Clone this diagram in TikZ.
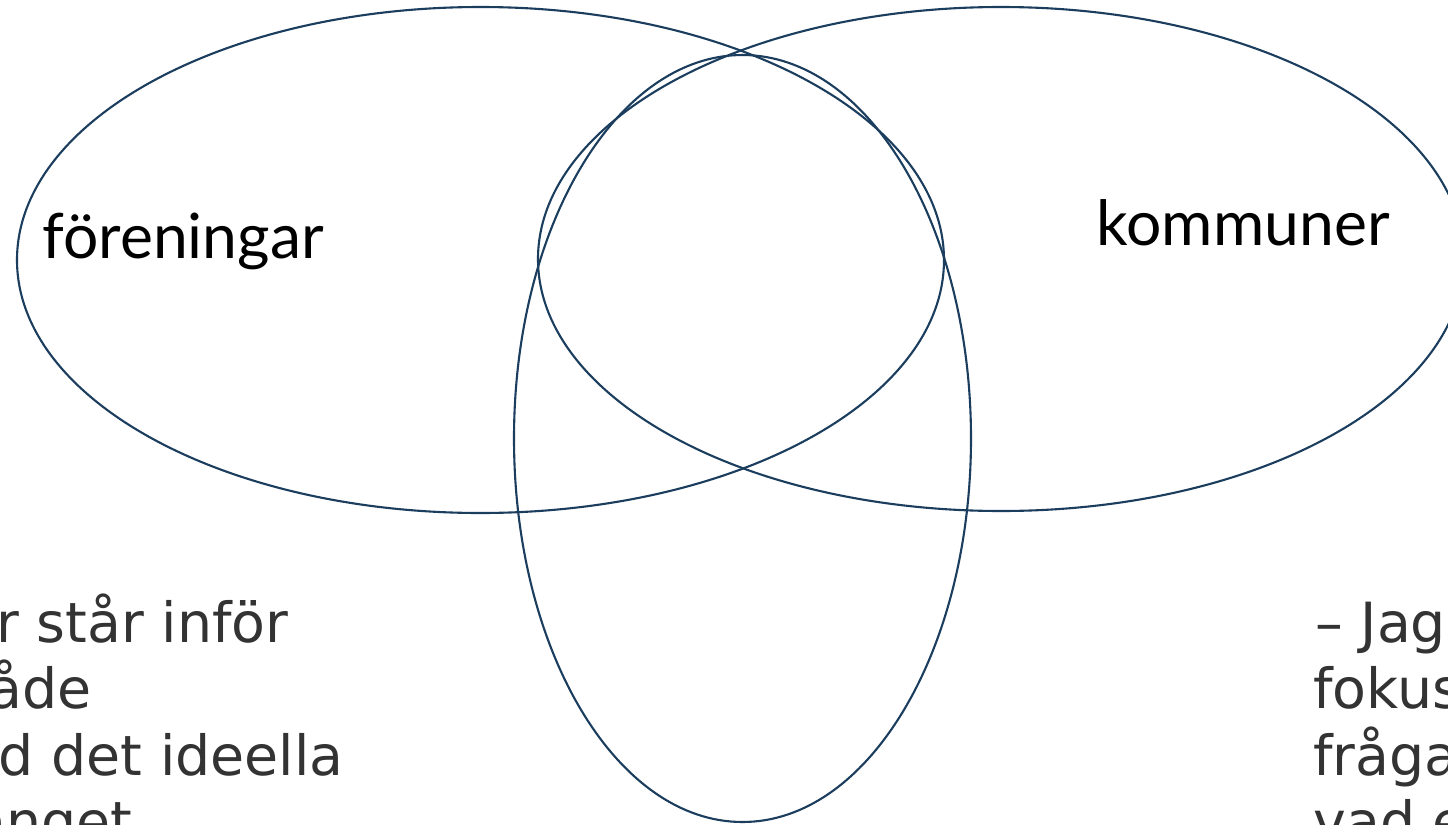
\documentclass[tikz,border=0pt]{standalone}
\usepackage{fontspec}
\setmainfont{DejaVu Sans}
\newfontfamily\labelfont{Lato}
\definecolor{ring}{HTML}{1B3D5E}
\definecolor{bodygray}{HTML}{333333}
\begin{document}
\begin{tikzpicture}[x=0.5pt,y=-0.5pt,
  ringstyle/.style={draw=ring,line width=1.05pt},
  setlabel/.style={inner sep=0pt,font=\labelfont\fontsize{31.2}{36}\selectfont,text=black},
  bodyline/.style={inner sep=0pt,font=\fontsize{27.7}{33}\selectfont,text=bodygray}]
\useasboundingbox (0,0) rectangle (1448,825);
\clip (0,0) rectangle (1448,825);
\fill[white] (0,0) rectangle (1448,825);
\draw[ringstyle] (480.5,260) ellipse [x radius=463.5, y radius=253];
\draw[ringstyle] (1001,259) ellipse [x radius=463, y radius=252];
\draw[ringstyle] (742.5,438.5) ellipse [x radius=228.5, y radius=383.5];
\node[setlabel,anchor=base west] (foren) at (42,258) {föreningar};
\node[setlabel,anchor=base west] (komm) at (1096,245) {kommuner};
\node[bodyline,anchor=base east] (l1) at (289,642) {r står inför};
\node[bodyline,anchor=base east] (l2) at (92,708) {åde};
\node[bodyline,anchor=base east] (l3) at (344,775) {ed det ideella};
\node[bodyline,anchor=base east] (l4) at (133,841) {anget};
\node[bodyline,anchor=base west] (r1) at (1315,642) {– Jag};
\node[bodyline,anchor=base west] (r2) at (1313,708) {fokus};
\node[bodyline,anchor=base west] (r3) at (1313,775) {fråga};
\node[bodyline,anchor=base west] (r4) at (1313,841) {vad e};
\end{tikzpicture}
\end{document}
